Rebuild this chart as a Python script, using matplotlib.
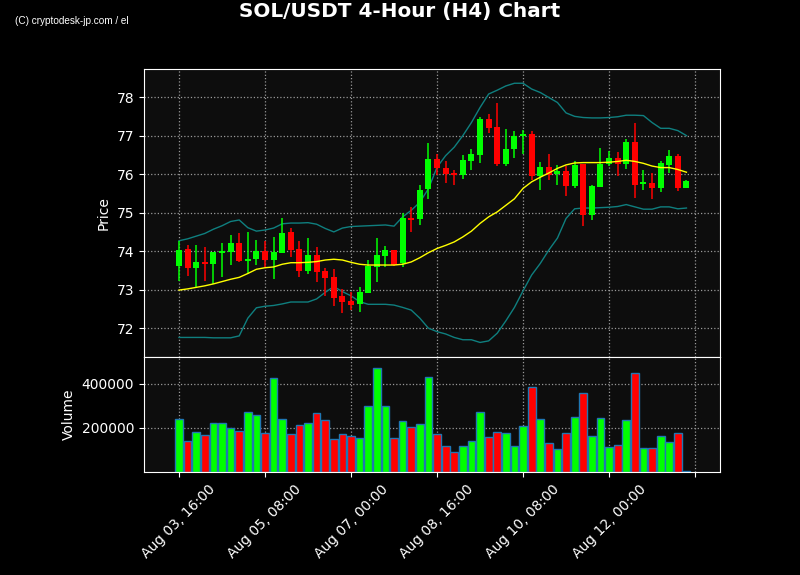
import matplotlib
matplotlib.use('Agg')
import matplotlib.pyplot as plt
import numpy as np

# 4h candles (index 0 = Aug 03 16:00)
opens = [73.62, 74.05, 73.57, 73.72, 73.67, 73.96, 73.98, 74.21, 73.74, 73.79,
         74.00, 73.77, 73.96, 74.49, 74.05, 73.49, 73.90, 73.48, 73.32, 72.84,
         72.71, 72.63, 72.92, 73.59, 73.87, 74.03, 73.68, 74.85, 74.83, 75.61,
         76.40, 76.16, 76.04, 75.97, 76.35, 76.49, 77.44, 77.23, 76.26, 76.64,
         76.98, 77.05, 75.95, 76.19, 76.00, 76.09, 75.68, 76.26, 74.93, 75.66,
         76.27, 76.43, 76.27, 76.84, 75.75, 75.78, 75.63, 76.25, 76.46, 75.65]
highs = [74.27, 74.15, 74.15, 74.10, 73.99, 74.20, 74.41, 74.46, 74.51, 74.30,
         74.26, 74.37, 74.85, 74.59, 74.27, 74.35, 74.11, 73.55, 73.54, 73.01,
         72.95, 73.08, 73.78, 74.34, 74.14, 74.03, 75.00, 75.15, 75.71, 76.81,
         76.53, 76.35, 76.11, 76.50, 76.66, 77.49, 77.56, 77.84, 77.17, 77.11,
         77.15, 77.12, 76.31, 76.51, 76.24, 76.20, 76.35, 76.26, 75.73, 76.68,
         76.59, 76.57, 76.90, 77.33, 76.11, 76.04, 76.33, 76.63, 76.51, 75.85]
lows = [73.23, 73.36, 73.08, 73.22, 73.16, 73.34, 73.64, 73.72, 73.42, 73.64,
        73.59, 73.27, 73.94, 73.85, 73.32, 73.40, 73.19, 72.84, 72.58, 72.39,
        72.47, 72.43, 72.92, 73.21, 73.58, 73.61, 73.58, 74.50, 74.67, 75.36,
        75.99, 75.78, 75.72, 75.88, 76.11, 76.30, 77.07, 76.22, 76.22, 76.42,
        76.53, 75.84, 75.60, 75.86, 75.73, 75.42, 75.65, 74.65, 74.80, 75.66,
        76.22, 75.95, 76.14, 75.39, 75.58, 75.35, 75.53, 76.03, 75.57, 75.63]
closes = [74.03, 73.57, 73.72, 73.67, 73.97, 74.01, 74.21, 73.74, 73.79, 74.00,
          73.77, 73.97, 74.47, 74.03, 73.49, 73.90, 73.46, 73.31, 72.78, 72.68,
          72.60, 72.94, 73.62, 73.90, 74.03, 73.65, 74.85, 74.80, 75.60, 76.40,
          76.16, 76.01, 75.97, 76.37, 76.51, 77.44, 77.21, 76.26, 76.66, 77.00,
          77.05, 75.95, 76.19, 75.98, 76.09, 75.69, 76.24, 74.93, 75.68, 76.27,
          76.43, 76.27, 76.84, 75.73, 75.79, 75.63, 76.28, 76.46, 75.65, 75.82]
volumes = [240900, 140900, 180000, 168200, 222700, 222700, 200000, 186400, 270900, 257300,
           177300, 427300, 240900, 172700, 213600, 222700, 268200, 236400, 150000, 172700,
           163600, 154500, 300000, 472700, 300000, 154500, 231800, 204500, 218200, 431800,
           172700, 118200, 89100, 118200, 140900, 272700, 159100, 181800, 177300, 118200,
           209100, 386400, 240900, 131800, 104500, 177300, 250000, 359100, 163600, 245500,
           113600, 122700, 236400, 450000, 109100, 109100, 163600, 136400, 177300, 4500]

# indicator lines (computed on longer history)
sma = [72.99, 73.02, 73.06, 73.10, 73.15, 73.21, 73.27, 73.32, 73.42, 73.53,
       73.57, 73.59, 73.66, 73.70, 73.70, 73.71, 73.73, 73.77, 73.79, 73.77,
       73.71, 73.66, 73.64, 73.64, 73.64, 73.64, 73.66, 73.72, 73.83, 73.96,
       74.07, 74.15, 74.24, 74.37, 74.52, 74.72, 74.89, 75.02, 75.19, 75.36,
       75.63, 75.80, 75.92, 76.03, 76.15, 76.24, 76.29, 76.30, 76.30, 76.30,
       76.31, 76.33, 76.36, 76.33, 76.28, 76.21, 76.17, 76.17, 76.12, 76.05]
upper = [74.27, 74.32, 74.39, 74.46, 74.57, 74.66, 74.77, 74.81, 74.61, 74.52,
         74.55, 74.60, 74.71, 74.73, 74.73, 74.74, 74.70, 74.59, 74.50, 74.60,
         74.64, 74.65, 74.66, 74.67, 74.68, 74.65, 74.89, 75.06, 75.27, 75.62,
         76.18, 76.48, 76.70, 77.00, 77.34, 77.73, 78.08, 78.18, 78.29, 78.36,
         78.36, 78.21, 78.12, 77.99, 77.86, 77.59, 77.50, 77.47, 77.46, 77.46,
         77.47, 77.49, 77.53, 77.53, 77.52, 77.34, 77.19, 77.19, 77.13, 77.00]
lower = [71.76, 71.76, 71.76, 71.76, 71.75, 71.75, 71.75, 71.80, 72.26, 72.53,
         72.57, 72.59, 72.63, 72.68, 72.68, 72.68, 72.76, 72.93, 73.08, 72.95,
         72.84, 72.69, 72.62, 72.62, 72.62, 72.60, 72.54, 72.47, 72.26, 72.00,
         71.91, 71.85, 71.76, 71.70, 71.70, 71.63, 71.67, 71.87, 72.19, 72.54,
         72.97, 73.38, 73.68, 74.03, 74.34, 74.85, 75.10, 75.12, 75.12, 75.13,
         75.14, 75.16, 75.21, 75.15, 75.09, 75.09, 75.15, 75.15, 75.10, 75.12]

tick_pos = [0, 10, 20, 30, 40, 50, 60]
tick_labels = ['Aug 03, 16:00', 'Aug 05, 08:00', 'Aug 07, 00:00', 'Aug 08, 16:00',
               'Aug 10, 08:00', 'Aug 12, 00:00', '']

x = np.arange(len(opens))
o = np.array(opens)
c = np.array(closes)
up = c >= o
cols = np.where(up, '#00ff00', '#ff0000')

fig = plt.figure(figsize=(8, 5.75), dpi=100, facecolor='black')
ax1 = fig.add_axes([0.18, 0.379, 0.72, 0.501])
ax2 = fig.add_axes([0.18, 0.179, 0.72, 0.2], sharex=ax1)

for ax in (ax1, ax2):
    ax.set_facecolor('#0d0d0d')
    for s in ax.spines.values():
        s.set_color('white')
    ax.tick_params(colors='white', labelsize=10)
    ax.grid(True, linestyle=':', color='#999999', linewidth=0.9)
    ax.set_axisbelow(True)

# candles
ax1.vlines(x, lows, highs, colors=cols, linewidth=1.1, zorder=2)
body = np.maximum(np.abs(c - o), 0.02)
ax1.bar(x, body, bottom=np.minimum(o, c), width=0.7, color=cols, zorder=3)

ax1.plot(x, upper, color='#0f7f7f', linewidth=1, zorder=1)
ax1.plot(x, lower, color='#0f7f7f', linewidth=1, zorder=1)
ax1.plot(x, sma, color='yellow', linewidth=1, zorder=4)

ax1.set_ylim(71.25, 78.73)
ax1.set_yticks([72, 73, 74, 75, 76, 77, 78])
ax1.set_ylabel('Price', color='white', fontsize=10)
ax1.tick_params(axis='x', labelbottom=False)

# volume
ax2.bar(x, volumes, width=0.9, color=cols, edgecolor='#1f77b4', linewidth=1)
ax2.set_ylim(0, 520000)
ax2.set_yticks([200000, 400000])
ax2.set_yticklabels(['200000', '400000'])
ax2.set_ylabel('Volume', color='white', fontsize=10)

ax2.set_xlim(-4.07, 62.9)
ax2.set_xticks(tick_pos)
ax2.set_xticklabels(tick_labels, rotation=45)

fig.suptitle('SOL/USDT 4-Hour (H4) Chart', color='white', fontsize=14.4,
             fontweight='bold', y=0.996)
fig.text(0.019, 0.958, '(C) cryptodesk-jp.com / el', color='white', fontsize=7.2,
         family='Liberation Sans')

fig.savefig('out.png', dpi=100, facecolor=fig.get_facecolor())
